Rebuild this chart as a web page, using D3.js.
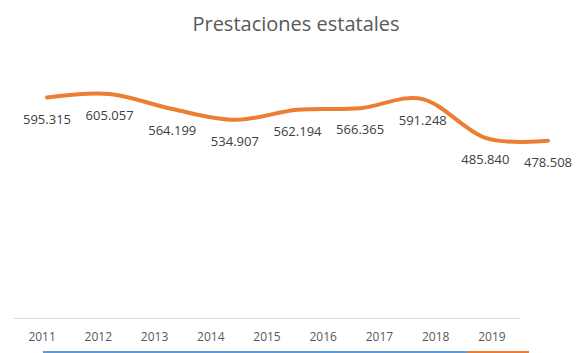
<!DOCTYPE html>
<html>
<head>
<meta charset="utf-8">
<script src="https://cdn.jsdelivr.net/npm/d3@7"></script>
<style>
  body { margin: 0; background: #fff; }
  text { font-family: "Open Sans", "Noto Sans", sans-serif; }
</style>
</head>
<body>
<script>
var years = ["2011", "2012", "2013", "2014", "2015", "2016", "2017", "2018", "2019"];
var values = [595.315, 605.057, 564.199, 534.907, 562.194, 566.365, 591.248, 485.840, 478.508];
var valueLabels = ["595.315", "605.057", "564.199", "534.907", "562.194", "566.365", "591.248", "485.840", "478.508"];
var title = "Prestaciones estatales";

var width = 582, height = 353;

var svg = d3.select("body")
    .append("svg")
    .attr("width", width)
    .attr("height", height);

// category axis along the bottom
var xAxisScale = d3.scaleBand()
    .domain(years)
    .range([14, 520]);

// the line and its labels sit on a wider spread than the axis
var x = d3.scalePoint()
    .domain(years)
    .range([47, 548]);

var y = d3.scaleLinear()
    .domain([0, 700])
    .range([317, 59]);

svg.append("text")
    .attr("x", 296)
    .attr("y", 31)
    .attr("text-anchor", "middle")
    .style("font-size", "20px")
    .style("fill", "#595959")
    .text(title);

// baseline
svg.append("line")
    .attr("x1", xAxisScale.range()[0])
    .attr("x2", xAxisScale.range()[1])
    .attr("y1", 318.5)
    .attr("y2", 318.5)
    .attr("stroke", "#d9d9d9")
    .attr("stroke-width", 1);

var xAxis = svg.append("g")
    .attr("transform", "translate(0,318)")
    .call(d3.axisBottom(xAxisScale).tickSize(0).tickPadding(14));
xAxis.select(".domain").remove();
xAxis.selectAll("text")
    .style("font-size", "12px")
    .style("fill", "#595959")
    .style("font-family", "'Open Sans', sans-serif");

// smoothed line
var rows = years.map(function (d, i) { return {year: d, value: values[i], label: valueLabels[i]}; });

svg.append("path")
    .datum(rows)
    .attr("fill", "none")
    .attr("stroke", "#ed7d31")
    .attr("stroke-width", 4)
    .attr("stroke-linecap", "round")
    .attr("d", d3.line()
        .x(d => x(d.year))
        .y(d => y(d.value))
        .curve(d3.curveCardinal.tension(0))
    );

svg.selectAll(".dlabel")
    .data(rows)
    .enter()
    .append("text")
    .attr("class", "dlabel")
    .attr("x", d => x(d.year))
    .attr("y", d => y(d.value) + 26)
    .attr("text-anchor", "middle")
    .style("font-size", "13px")
    .style("fill", "#404040")
    .text(d => d.label);

// clipped legend strip at the bottom edge
svg.append("line")
    .attr("x1", 43).attr("x2", 467)
    .attr("y1", 352).attr("y2", 352)
    .attr("stroke", "#5b9bd5")
    .attr("stroke-width", 2);
svg.append("line")
    .attr("x1", 467).attr("x2", 529)
    .attr("y1", 352).attr("y2", 352)
    .attr("stroke", "#ed7d31")
    .attr("stroke-width", 2);
</script>
</body>
</html>
